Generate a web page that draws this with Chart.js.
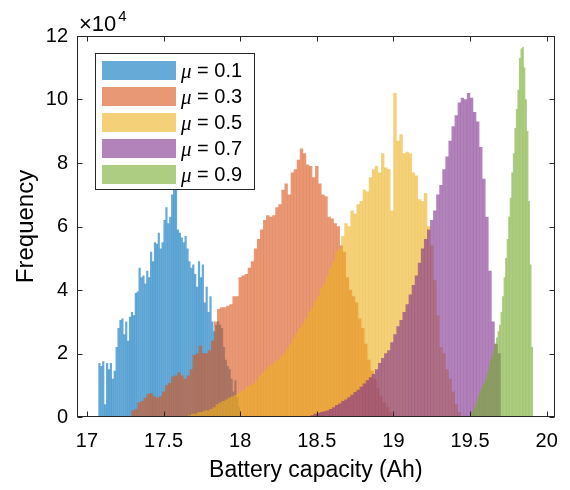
<!DOCTYPE html>
<html><head><meta charset="utf-8">
<script src="https://cdn.jsdelivr.net/npm/chart.js@4.4.0/dist/chart.umd.min.js"></script>
<style>html,body{margin:0;padding:0;background:#fff}#wrap{width:570px;height:490px}</style>
</head><body><div id="wrap"><canvas id="c" width="570" height="490"></canvas></div>
<script>
// ---- data (frequency in units of 10^4) ----
const seriesLabels = ['0.1', '0.3', '0.5', '0.7', '0.9'];
const binStart = [17.075, 17.29, 17.66, 18.46, 19.50];   // left edge of first bin (Ah)
const binWidth = [0.0125, 0.02, 0.02, 0.02, 0.01];        // bin width (Ah)

const freqMu01 = [1.7,1.6,1.75,0.4,1.7,1.5,1.7,1.2,1.45,2.2,2.8,3.05,3.1,2.6,3.0,2.4,3.15,3.3,3.2,3.9,
  3.95,4.7,4.4,4.45,4.2,4.6,4.4,5.2,4.9,5.5,5.45,5.8,5.3,5.5,6.2,6.6,6.1,6.3,7.0,7.2,
  7.2,5.9,5.8,5.65,5.5,5.7,5.3,4.9,4.7,4.8,4.5,4.1,4.9,4.4,4.8,3.6,4.1,3.3,3.8,3.0,
  2.7,2.9,3.0,2.9,2.8,2.2,1.8,1.6,1.5,1.2,0.8,1.15,0.6,0.3];
const freqMu03 = [0.2,0.25,0.45,0.5,0.6,0.72,0.75,0.65,0.6,0.65,0.8,1.0,1.07,1.27,1.3,1.4,1.3,1.2,1.3,1.5,
  1.95,2.0,2.25,2.0,2.0,2.1,2.4,3.0,3.4,3.45,3.45,3.5,3.55,3.8,3.8,4.4,4.45,4.5,4.7,4.9,
  5.3,5.6,5.9,6.2,6.35,6.3,6.35,6.6,6.7,7.15,7.35,7.0,7.7,7.8,8.1,8.45,8.3,7.95,7.9,7.55,
  7.9,7.35,7.0,6.95,6.3,6.25,6.1,6.0,5.4,5.2,4.4,4.0,3.8,3.6,3.1,2.8,2.3,1.8,1.45,1.2,
  0.9,0.65,0.45,0.3,0.15,0.05];
const freqMu05 = [0.05,0.1,0.1,0.15,0.15,0.2,0.2,0.25,0.3,0.4,0.45,0.5,0.55,0.6,0.65,0.7,0.75,0.8,0.85,0.95,
  1.0,1.05,1.15,1.3,1.4,1.5,1.6,1.65,1.75,1.8,1.9,2.0,2.15,2.3,2.5,2.65,2.8,2.95,3.1,3.3,
  3.45,3.65,3.8,4.05,4.2,4.45,4.7,4.9,5.2,5.3,5.7,6.1,6.0,6.5,6.4,6.7,6.8,7.15,7.1,7.55,
  7.8,7.9,7.7,8.3,7.85,7.8,6.5,10.2,8.7,8.9,8.3,8.35,8.3,7.7,7.6,6.85,6.8,7.05,6.0,5.4,
  4.3,3.2,2.2,2.0,1.5,1.2,0.8,0.4,0.15];
const freqMu07 = [0.05,0.1,0.12,0.15,0.18,0.2,0.25,0.3,0.37,0.42,0.5,0.55,0.62,0.7,0.78,0.85,0.95,1.05,1.15,1.25,
  1.35,1.5,1.7,1.85,2.0,2.1,2.35,2.6,2.85,3.05,3.3,3.55,3.85,4.15,4.45,4.85,5.3,5.6,5.9,6.2,
  6.5,7.0,7.3,7.8,8.2,8.7,9.15,9.5,9.9,10.05,10.0,10.2,10.05,9.6,9.3,8.5,7.5,6.3,4.6,3.0,
  2.3,2.0];
const freqMu09 = [0.05,0.15,0.25,0.35,0.5,0.65,0.8,0.9,1.0,1.1,1.25,1.4,1.6,1.8,1.95,2.1,2.3,2.5,2.7,2.9,
  3.3,3.8,4.4,5.0,5.6,6.3,6.9,7.7,8.3,9.1,9.7,10.3,11.3,11.6,11.65,11.0,10.0,9.0,6.8,4.8,
  2.2];

const xTicks = [17, 17.5, 18, 18.5, 19, 19.5, 20];
const yTicks = [0, 2, 4, 6, 8, 10, 12];
const seriesFreq = [freqMu01, freqMu03, freqMu05, freqMu07, freqMu09];
const seriesColors = ['rgba(0,114,189,0.6)', 'rgba(217,83,25,0.6)', 'rgba(237,177,32,0.6)',
                      'rgba(126,47,142,0.6)', 'rgba(119,172,48,0.6)'];

const FONT = '"Liberation Sans", Arial, Helvetica, sans-serif';

const datasets = seriesFreq.map((arr, k) => ({
  label: '\u03bc = ' + seriesLabels[k],
  data: arr.map((v, i) => ({ x: binStart[k] + (i + 0.5) * binWidth[k], y: v })),
  backgroundColor: seriesColors[k],
  borderWidth: 0,
  barThickness: 'flex',
  barPercentage: 1,
  categoryPercentage: 1,
  inflateAmount: 0.15,
  stack: 'hist',
  order: seriesFreq.length - k   // later series drawn on top
}));

const framePlugin = {
  id: 'frame',
  afterDatasetsDraw(chart) {
    const { ctx, chartArea: a, scales: { x, y } } = chart;
    ctx.save();
    ctx.strokeStyle = '#262626';
    ctx.lineWidth = 1;
    const L = Math.round(a.left) + 0.5, R = Math.round(a.right) - 0.5;
    const T = Math.round(a.top) + 0.5, B = Math.round(a.bottom) - 0.5;
    ctx.strokeRect(L, T, R - L, B - T);
    const tl = 5;
    ctx.beginPath();
    x.ticks.forEach(t => {
      const px = Math.round(x.getPixelForValue(t.value)) + 0.5;
      ctx.moveTo(px, B); ctx.lineTo(px, B - tl);
      ctx.moveTo(px, T); ctx.lineTo(px, T + tl);
    });
    y.ticks.forEach(t => {
      const py = Math.round(y.getPixelForValue(t.value)) + 0.5;
      ctx.moveTo(L, py); ctx.lineTo(L + tl, py);
      ctx.moveTo(R, py); ctx.lineTo(R - tl, py);
    });
    ctx.stroke();

    // exponent label
    ctx.fillStyle = '#000';
    ctx.textBaseline = 'alphabetic';
    ctx.textAlign = 'left';
    ctx.font = '22px ' + FONT;
    ctx.fillText('\u00d710', a.left + 2, a.top - 5);
    const w = ctx.measureText('\u00d710').width;
    ctx.font = '15px ' + FONT;
    ctx.fillText('4', a.left + 4 + w, a.top - 15);

    // legend
    const lx = a.left + 18, ly = a.top + 17, lw = 159, lh = 136;
    ctx.fillStyle = '#fff';
    ctx.fillRect(lx, ly, lw, lh);
    ctx.strokeRect(Math.round(lx) + 0.5, Math.round(ly) + 0.5, lw, lh);
    chart.data.datasets.forEach((ds, i) => {
      const ry = ly + 8 + i * 26;
      ctx.fillStyle = ds.backgroundColor;
      ctx.fillRect(lx + 7, ry, 74, 19);
      ctx.fillStyle = '#000';
      ctx.textBaseline = 'middle';
      ctx.font = 'italic 21px "Liberation Serif", "DejaVu Serif", serif';
      const tx = lx + 86;
      ctx.fillText('\u03bc', tx, ry + 11);
      const mw = ctx.measureText('\u03bc').width;
      ctx.font = '20px ' + FONT;
      ctx.fillText(' = ' + seriesLabels[i], tx + mw, ry + 10);
    });
    ctx.restore();
  }
};

new Chart(document.getElementById('c'), {
  type: 'bar',
  data: { datasets },
  options: {
    responsive: false,
    devicePixelRatio: 1,
    animation: false,
    layout: { padding: { left: 0, right: 12, top: 36, bottom: 0 } },
    plugins: { legend: { display: false }, tooltip: { enabled: false }, title: { display: false } },
    scales: {
      x: {
        type: 'linear', min: 16.935, max: 20.052, stacked: true, offset: false,
        afterBuildTicks: s => { s.ticks = xTicks.map(v => ({ value: v })); },
        afterFit: s => { s.height = 73; },
        grid: { display: false, drawTicks: false },
        border: { display: false },
        ticks: { font: { family: FONT, size: 20 }, color: '#000', padding: 12, maxRotation: 0, autoSkip: false,
                 callback: v => String(v) },
        title: { display: true, text: 'Battery capacity (Ah)', font: { family: FONT, size: 23 }, color: '#000',
                 padding: { top: 0, bottom: 6 } }
      },
      y: {
        type: 'linear', min: 0, max: 12, stacked: false,
        afterBuildTicks: s => { s.ticks = yTicks.map(v => ({ value: v })); },
        afterFit: s => { s.width = 77; },
        grid: { display: false, drawTicks: false },
        border: { display: false },
        ticks: { font: { family: FONT, size: 20 }, color: '#000', padding: 9, autoSkip: false,
                 callback: v => String(v) },
        title: { display: true, text: 'Frequency', font: { family: FONT, size: 24 }, color: '#000',
                 padding: { top: 12, bottom: 0 } }
      }
    }
  },
  plugins: [framePlugin]
});
</script>
</body></html>
